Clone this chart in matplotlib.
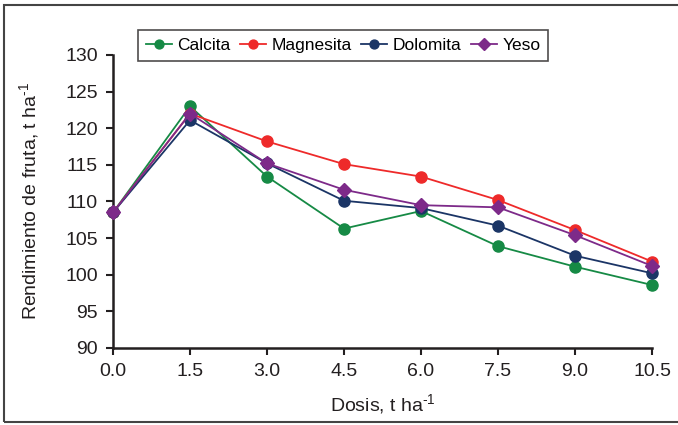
import matplotlib
matplotlib.use("Agg")
import matplotlib.pyplot as plt
from matplotlib.patches import Rectangle

plt.rcParams['font.family'] = ['Liberation Sans', 'DejaVu Sans']
plt.rcParams['mathtext.fontset'] = 'custom'
plt.rcParams['mathtext.rm'] = 'Liberation Sans'

dosis = [0.0, 1.5, 3.0, 4.5, 6.0, 7.5, 9.0, 10.5]
x_ticklabels = ["0.0", "1.5", "3.0", "4.5", "6.0", "7.5", "9.0", "10.5"]
calcita = [108.5, 123.0, 113.4, 106.3, 108.7, 103.9, 101.1, 98.6]
magnesita = [108.5, 122.0, 118.2, 115.1, 113.4, 110.2, 106.1, 101.8]
dolomita = [108.5, 121.1, 115.2, 110.1, 109.1, 106.7, 102.6, 100.2]
yeso = [108.5, 122.0, 115.2, 111.6, 109.5, 109.2, 105.4, 101.2]

series = [
    ("Calcita", calcita, "#168a45", "o"),
    ("Magnesita", magnesita, "#ee2a2a", "o"),
    ("Dolomita", dolomita, "#1b3566", "o"),
    ("Yeso", yeso, "#7d2a89", "D"),
]

fig = plt.figure(figsize=(6.78, 4.25), dpi=100)
ax = fig.add_axes([0.1667, 0.1812, 0.795, 0.6894])

for name, vals, col, mk in series:
    ms = 8 if mk == "o" else 7.5
    ax.plot(dosis, vals, color=col, marker=mk, markersize=ms, linewidth=1.3,
            label=name, clip_on=False, zorder=3)

ax.set_xlim(0, 10.5)
ax.set_ylim(90, 130)
ax.set_xticks(dosis)
ax.set_xticklabels(x_ticklabels)
ax.set_yticks(range(90, 131, 5))
for s in ["top", "right"]:
    ax.spines[s].set_visible(False)
for s in ["left", "bottom"]:
    ax.spines[s].set_linewidth(1.8)
    ax.spines[s].set_color("#231f20")
ax.tick_params(direction="out", length=5, width=1.5, labelsize=14, colors="#231f20", pad=6)

sup = "$^{\\text{-1}}$"
ax.set_xlabel("Dosis, t ha" + sup, fontsize=14, color="#231f20", labelpad=9)
ax.set_ylabel("Rendimiento de fruta, t ha" + sup, fontsize=14, color="#231f20", labelpad=17)

leg = ax.legend(loc="upper left", bbox_to_anchor=(0.031, 1.115), ncol=4, frameon=True,
                fontsize=12.5, handlelength=1.5, handletextpad=0.3, columnspacing=0.55,
                borderpad=0.45, fancybox=False, markerscale=0.8)
leg.get_frame().set_edgecolor("#231f20")
leg.get_frame().set_linewidth(1.2)

fig.patches.append(Rectangle((0.006, 0.007), 1.1, 0.981, transform=fig.transFigure,
                             fill=False, edgecolor="#444444", linewidth=1.5))

fig.savefig("out.png", dpi=100)
